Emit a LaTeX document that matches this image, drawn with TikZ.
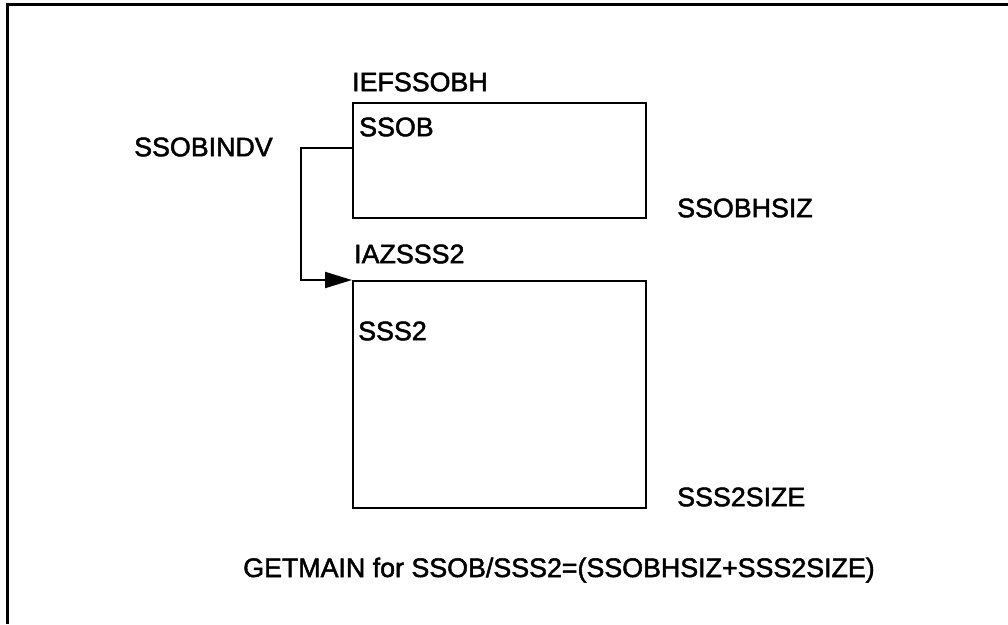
\documentclass[tikz,border=0pt]{standalone}
\usepackage{fontspec}
\setmainfont{Liberation Sans}[FakeBold=1.8]
\usetikzlibrary{arrows.meta,calc}
\begin{document}
\begin{tikzpicture}[x=1pt,y=-1pt,
  lbl/.style={anchor=west,inner sep=0pt,font=\fontsize{26.8}{30}\selectfont},
  area/.style={draw,line width=2pt,anchor=north west,inner sep=0pt},
  link/.style={line width=2pt,-{Triangle[length=27pt,width=16pt]}}]
  \useasboundingbox (0,0) rectangle (1008,624);
  % outer frame: only its top and left sides fall inside the page
  \draw[line width=3pt] (1008,4.5) -- (7.5,4.5) -- (7.5,624);
  % control blocks
  \node[area,minimum width=293pt,minimum height=115pt] (ssob) at (352,102) {};
  \node[area,minimum width=293pt,minimum height=227pt] (sss2) at (352,280) {};
  % labels
  \node[lbl] (hdr1) at (352,82) {IEFSSOBH};
  \node[lbl] (in1) at (359,127) {SSOB};
  \node[lbl] (ptr) at (134,147) {SSOBINDV};
  \node[lbl] (sz1) at (677,208) {SSOBHSIZ};
  \node[lbl] (hdr2) at (354,254) {IAZSSS2};
  \node[lbl] (in2) at (358,331) {SSS2};
  \node[lbl] (sz2) at (677,497) {SSS2SIZE};
  \node[lbl,anchor=base west] (note) at (243,577) {GETMAIN for SSOB/SSS2=(SSOBHSIZ+SSS2SIZE)};
  % pointer from SSOB to SSS2
  \coordinate (src) at ($(ssob.north west)+(0,46)$);
  \draw[link] (src) -- ++(-51,0) |- (sss2.north west);
\end{tikzpicture}
\end{document}
